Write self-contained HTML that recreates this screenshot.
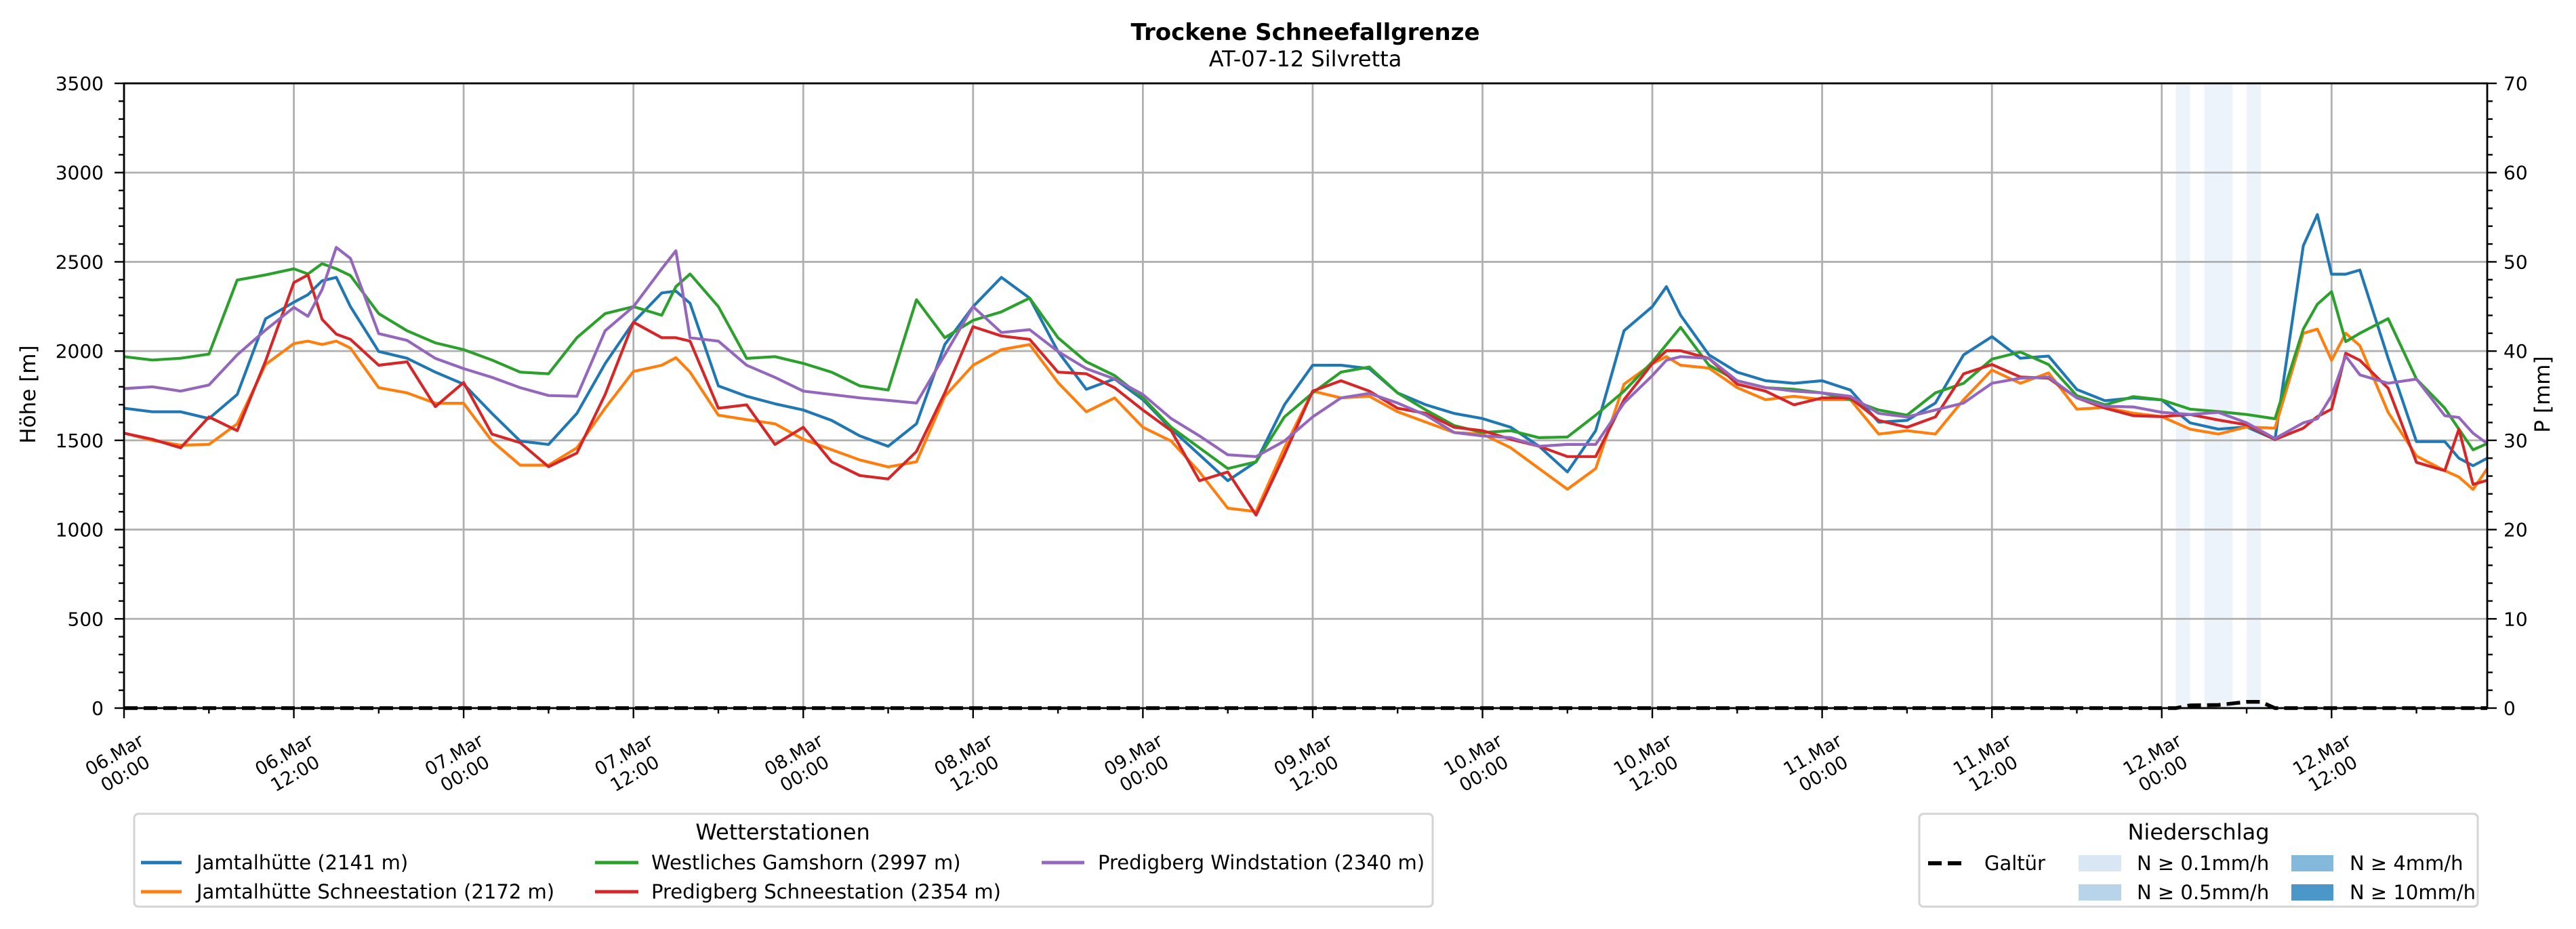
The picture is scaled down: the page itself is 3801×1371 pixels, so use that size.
<!DOCTYPE html>
<html>
<head>
<meta charset="utf-8">
<style>
html,body{margin:0;padding:0;background:#fff;}
svg{display:block;font-family:"DejaVu Sans","Liberation Sans",sans-serif;}
</style>
</head>
<body>
<svg id="chart" width="3801" height="1371" viewBox="0 0 3801 1371" xmlns="http://www.w3.org/2000/svg">
  <rect x="0" y="0" width="3801" height="1371" fill="#ffffff"/>
  <text x="1926" y="59" text-anchor="middle" font-size="34" font-weight="bold">Trockene Schneefallgrenze</text>
  <text x="1926" y="98" text-anchor="middle" font-size="32">AT-07-12 Silvretta</text>
  <g id="bands"></g>
  <g id="grid"></g>
  <g id="series"></g>
  <g id="axes"></g>
  <text transform="translate(52,582) rotate(-90)" text-anchor="middle" font-size="31">Höhe [m]</text>
  <text transform="translate(3762,582) rotate(-90)" text-anchor="middle" font-size="31">P [mm]</text>

  <g>
    <rect x="198" y="1201" width="1916" height="137" rx="6" fill="#fff" stroke="#d4d4d4" stroke-width="3"/>
    <text x="1155" y="1239" text-anchor="middle" font-size="32">Wetterstationen</text>
    <g><line x1="208" y1="1273" x2="268" y2="1273" stroke="#1f77b4" stroke-width="5"/><text x="290" y="1283" font-size="29">Jamtalhütte (2141 m)</text></g>
    <g><line x1="208" y1="1316" x2="268" y2="1316" stroke="#ff7f0e" stroke-width="5"/><text x="290" y="1326" font-size="29">Jamtalhütte Schneestation (2172 m)</text></g>
    <g><line x1="878" y1="1273" x2="942" y2="1273" stroke="#2ca02c" stroke-width="5"/><text x="961" y="1283" font-size="29">Westliches Gamshorn (2997 m)</text></g>
    <g><line x1="878" y1="1316" x2="942" y2="1316" stroke="#d62728" stroke-width="5"/><text x="961" y="1326" font-size="29">Predigberg Schneestation (2354 m)</text></g>
    <g><line x1="1537" y1="1273" x2="1600" y2="1273" stroke="#9467bd" stroke-width="5"/><text x="1620" y="1283" font-size="29">Predigberg Windstation (2340 m)</text></g>
  </g>

  <g>
    <rect x="2832" y="1201" width="824" height="137" rx="6" fill="#fff" stroke="#d4d4d4" stroke-width="3"/>
    <text x="3244" y="1239" text-anchor="middle" font-size="32">Niederschlag</text>
    <g><line x1="2845" y1="1274" x2="2900" y2="1274" stroke="#000" stroke-width="6" stroke-dasharray="20,9"/><text x="2928" y="1284" font-size="29">Galtür</text></g>
    <g><rect x="3067" y="1262" width="63" height="24" fill="#d9e7f5"/><text x="3153" y="1284" font-size="29">N ≥ 0.1mm/h</text></g>
    <g><rect x="3067" y="1305" width="63" height="24" fill="#b8d4ea"/><text x="3153" y="1327" font-size="29">N ≥ 0.5mm/h</text></g>
    <g><rect x="3381" y="1262" width="62" height="24" fill="#84b9dc"/><text x="3467" y="1284" font-size="29">N ≥ 4mm/h</text></g>
    <g><rect x="3381" y="1305" width="62" height="24" fill="#4b97c9"/><text x="3467" y="1327" font-size="29">N ≥ 10mm/h</text></g>
  </g>
</svg>
<script>
// ---- data ----
const hours = [0,2,4,6,8,10,12,13,14,15,16,18,20,22,24,26,28,30,32,34,36,38,39,40,42,44,46,48,50,52,54,56,58,60,62,64,66,68,70,72,74,76,78,80,82,84,86,88,90,92,94,96,98,100,102,104,106,108,109,110,112,114,116,118,120,122,124,126,128,130,132,134,136,138,140,142,144,146,148,150,152,154,155,156,157,158,160,162,164,165,166,167];
const jamtal = [1680,1660,1660,1622,1757,2181,2274,2316,2394,2413,2249,1998,1960,1882,1815,1651,1496,1477,1651,1930,2162,2326,2336,2268,1805,1747,1705,1670,1612,1525,1467,1593,2037,2249,2413,2297,1998,1786,1844,1728,1564,1419,1274,1380,1699,1921,1921,1902,1766,1699,1651,1622,1573,1467,1323,1554,2114,2249,2361,2201,1979,1882,1834,1820,1834,1782,1602,1612,1709,1979,2081,1960,1972,1785,1722,1738,1727,1598,1563,1575,1505,2590,2765,2431,2431,2454,1960,1493,1493,1400,1358,1400];
const jamtalSchnee = [1541,1500,1473,1477,1593,1925,2042,2056,2037,2056,2017,1795,1766,1708,1708,1496,1361,1361,1458,1680,1886,1921,1963,1882,1641,1616,1593,1506,1448,1390,1351,1380,1747,1921,2008,2037,1824,1660,1738,1573,1496,1323,1120,1101,1458,1776,1738,1747,1660,1602,1544,1535,1458,1342,1226,1342,1815,1930,1969,1921,1905,1795,1728,1747,1728,1728,1535,1554,1535,1728,1894,1820,1878,1675,1684,1652,1633,1563,1535,1575,1568,2100,2123,1948,2100,2030,1657,1412,1330,1295,1225,1342];
const gamshorn = [1969,1950,1960,1983,2398,2427,2461,2432,2490,2461,2423,2210,2114,2046,2008,1950,1882,1873,2075,2210,2249,2201,2361,2432,2249,1959,1969,1931,1882,1805,1782,2288,2075,2172,2220,2297,2075,1940,1863,1738,1573,1458,1342,1380,1631,1766,1882,1911,1766,1670,1583,1544,1554,1515,1519,1641,1776,1940,2037,2133,1921,1834,1795,1786,1766,1728,1670,1641,1766,1820,1955,1995,1925,1750,1699,1745,1727,1675,1661,1645,1621,2123,2263,2333,2053,2100,2182,1843,1680,1563,1447,1482];
const predigSchnee = [1540,1506,1458,1631,1554,1944,2384,2427,2178,2095,2066,1921,1940,1689,1824,1535,1487,1352,1429,1757,2162,2075,2075,2056,1680,1699,1477,1573,1380,1303,1284,1438,1766,2137,2085,2066,1882,1873,1795,1670,1554,1274,1323,1081,1419,1776,1834,1776,1680,1651,1573,1554,1506,1467,1409,1409,1728,1930,2002,2002,1959,1815,1776,1699,1738,1738,1612,1573,1631,1873,1925,1855,1848,1738,1680,1638,1633,1645,1614,1587,1505,1568,1633,1675,1988,1948,1792,1377,1330,1563,1253,1276];
const predigWind = [1790,1800,1776,1810,1979,2118,2245,2195,2345,2581,2519,2098,2060,1959,1902,1853,1795,1751,1747,2114,2249,2461,2562,2075,2056,1921,1853,1776,1757,1738,1724,1709,1979,2249,2104,2120,1998,1902,1844,1757,1622,1525,1419,1409,1496,1631,1738,1763,1709,1641,1544,1525,1515,1467,1477,1477,1709,1863,1949,1969,1959,1834,1795,1776,1766,1747,1651,1631,1670,1709,1820,1848,1855,1738,1691,1687,1657,1645,1657,1598,1510,1598,1621,1750,1972,1867,1820,1843,1638,1628,1540,1482];
const precipHours = [0,145,146,148,150,151,152,167];
const galtur = [0,0,0.3,0.35,0.7,0.7,0,0];
const bandStart = [145,147,150];
const bandEnd = [146,149,151];
const xTickLabels = ["06.Mar|00:00","06.Mar|12:00","07.Mar|00:00","07.Mar|12:00","08.Mar|00:00","08.Mar|12:00","09.Mar|00:00","09.Mar|12:00","10.Mar|00:00","10.Mar|12:00","11.Mar|00:00","11.Mar|12:00","12.Mar|00:00","12.Mar|12:00"];
const yTicks = [0,500,1000,1500,2000,2500,3000,3500];
const y2Ticks = [0,10,20,30,40,50,60,70];

// ---- geometry ----
const NS = "http://www.w3.org/2000/svg";
const L = 183, R = 3670, T = 123, B = 1045;
const H_MAX = 167;
const xs = h => L + (R - L) * h / H_MAX;
const ys = v => B - (B - T) * v / 3500;
const y2s = v => B - (B - T) * v / 70;
function mk(tag, attrs, parent) {
  const e = document.createElementNS(NS, tag);
  for (const k in attrs) e.setAttribute(k, attrs[k]);
  parent.appendChild(e);
  return e;
}
const grid = document.getElementById('grid');
const axes = document.getElementById('axes');
const series = document.getElementById('series');
const bands = document.getElementById('bands');

for (let i = 0; i < bandStart.length; i++) {
  const r = mk('rect', {x: xs(bandStart[i]), y: T, width: xs(bandEnd[i]) - xs(bandStart[i]), height: B - T, fill: '#edf3fa'}, bands);
  
  
}

for (let i = 0; i < xTickLabels.length; i++) {
  const x = xs(i * 12);
  const g = mk('line', {x1: x, x2: x, y1: T, y2: B, stroke: '#b0b0b0', 'stroke-width': 2.8}, grid);
  
  
}
yTicks.forEach(v => {
  const y = ys(v);
  const g = mk('line', {x1: L, x2: R, y1: y, y2: y, stroke: '#b0b0b0', 'stroke-width': 2.8}, grid);
  
  
});

function poly(xArr, yArr, sx, sy, color, name, extra) {
  let d = '';
  for (let i = 0; i < xArr.length; i++) d += (i ? 'L' : 'M') + sx(xArr[i]).toFixed(1) + ',' + sy(yArr[i]).toFixed(1);
  const p = mk('path', Object.assign({d: d, fill: 'none', stroke: color, 'stroke-width': 4.2, 'stroke-linejoin': 'round'}, extra || {}), series);
  
  
}
poly(hours, jamtal, xs, ys, '#1f77b4', 'series-jamtalhuette');
poly(hours, jamtalSchnee, xs, ys, '#ff7f0e', 'series-jamtalhuette-schneestation');
poly(hours, gamshorn, xs, ys, '#2ca02c', 'series-westliches-gamshorn');
poly(hours, predigSchnee, xs, ys, '#d62728', 'series-predigberg-schneestation');
poly(hours, predigWind, xs, ys, '#9467bd', 'series-predigberg-windstation');
poly(precipHours, galtur, xs, y2s, '#000000', 'series-galtuer-precip', {'stroke-width': 5.5, 'stroke-dasharray': '20,9', 'stroke-linejoin': 'miter'});

const frame = mk('rect', {x: L, y: T, width: R - L, height: B - T, fill: 'none', stroke: '#000', 'stroke-width': 2.8}, axes);



for (let v = 0; v <= 3500; v += 100) {
  const y = ys(v);
  const major = v % 500 === 0;
  const t = mk('line', {x1: L - (major ? 14 : 8), x2: L, y1: y, y2: y, stroke: '#000', 'stroke-width': 2.4}, axes);
  
  
}
yTicks.forEach(v => {
  const tx = mk('text', {x: L - 30, y: ys(v) + 10, 'text-anchor': 'end', 'font-size': 28}, axes);
  tx.textContent = String(v);
  
  
});
for (let v = 0; v <= 70; v += 2) {
  const y = y2s(v);
  const major = v % 10 === 0;
  const t = mk('line', {x1: R, x2: R + (major ? 14 : 8), y1: y, y2: y, stroke: '#000', 'stroke-width': 2.4}, axes);
  
  
}
y2Ticks.forEach(v => {
  const tx = mk('text', {x: R + 24, y: y2s(v) + 10, 'text-anchor': 'start', 'font-size': 28}, axes);
  tx.textContent = String(v);
  
  
});
for (let h = 0; h <= H_MAX; h += 6) {
  const x = xs(h);
  const major = h % 12 === 0;
  const t = mk('line', {x1: x, x2: x, y1: B, y2: B + (major ? 15 : 8), stroke: '#000', 'stroke-width': 2.4}, axes);
  
  
}
xTickLabels.forEach((lab, i) => {
  const parts = lab.split('|');
  const g = mk('g', {transform: 'translate(' + (xs(i * 12) - 6) + ',1128) rotate(-30)'}, axes);
  
  
  const t1 = mk('text', {x: 0, y: -7, 'text-anchor': 'middle', 'font-size': 27}, g);
  t1.textContent = parts[0];
  const t2 = mk('text', {x: 0, y: 25, 'text-anchor': 'middle', 'font-size': 27}, g);
  t2.textContent = parts[1];
});
</script>
</body>
</html>
